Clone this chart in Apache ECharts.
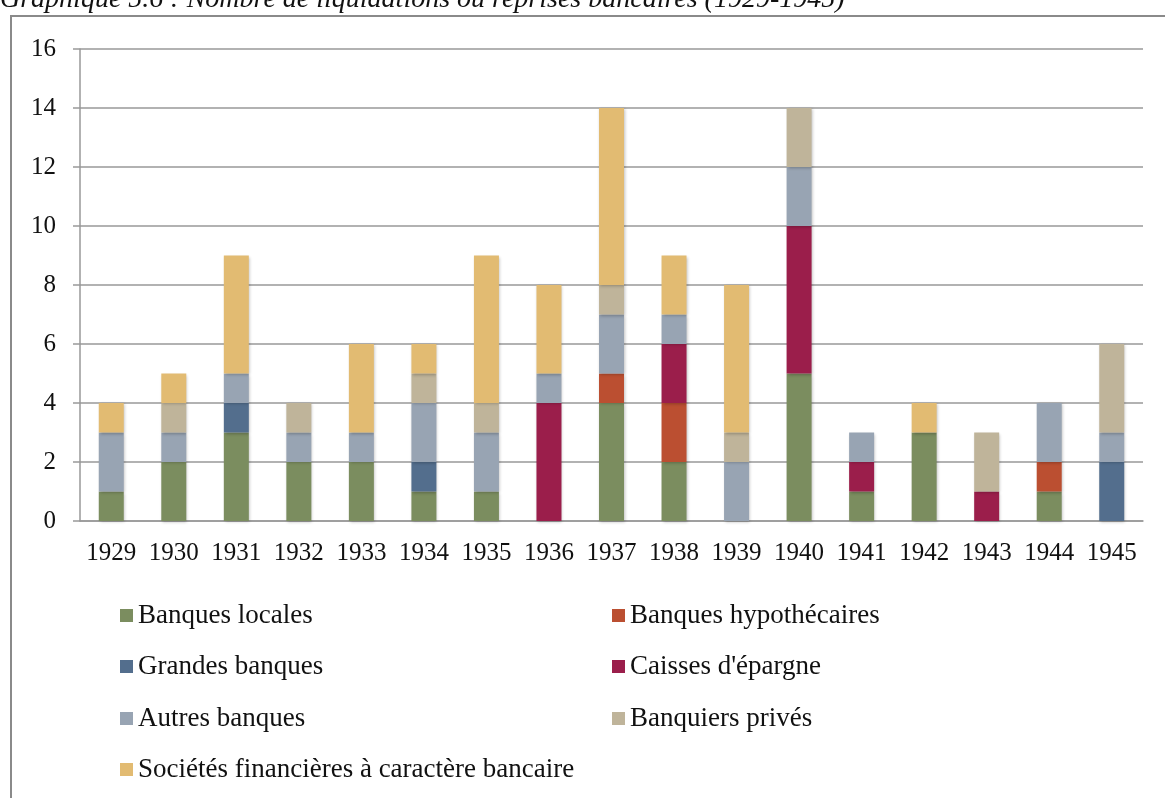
<!DOCTYPE html>
<html>
<head>
<meta charset="utf-8">
<script src="https://cdn.jsdelivr.net/npm/echarts@6/dist/echarts.min.js"></script>
<style>
html, body { margin: 0; padding: 0; background: #fff; }
#chart { width: 1165px; height: 798px; }
</style>
</head>
<body>
<div id="chart"></div>
<script>
// annees et valeurs
var annees = ['1929', '1930', '1931', '1932', '1933', '1934', '1935', '1936', '1937',
	'1938', '1939', '1940', '1941', '1942', '1943', '1944', '1945'];

var banquesLocales      = [1, 2, 3, 2, 2, 1, 1, 0, 4, 2, 0, 5, 1, 3, 0, 1, 0];
var banquesHypothecaires = [0, 0, 0, 0, 0, 0, 0, 0, 1, 2, 0, 0, 0, 0, 0, 1, 0];
var grandesBanques      = [0, 0, 1, 0, 0, 1, 0, 0, 0, 0, 0, 0, 0, 0, 0, 0, 2];
var caissesEpargne      = [0, 0, 0, 0, 0, 0, 0, 4, 0, 2, 0, 5, 1, 0, 1, 0, 0];
var autresBanques       = [2, 1, 1, 1, 1, 2, 2, 1, 2, 1, 2, 2, 1, 0, 0, 2, 1];
var banquiersPrives     = [0, 1, 0, 1, 0, 1, 1, 0, 1, 0, 1, 2, 0, 0, 2, 0, 3];
var societesFinancieres = [1, 1, 4, 0, 3, 1, 5, 3, 6, 2, 5, 0, 0, 1, 0, 0, 0];

var yTicks = [0, 2, 4, 6, 8, 10, 12, 14, 16];

var seriesNames = ['Banques locales', 'Banques hypothécaires', 'Grandes banques',
	"Caisses d'épargne", 'Autres banques', 'Banquiers privés',
	'Sociétés financières à caractère bancaire'];
var seriesData = [banquesLocales, banquesHypothecaires, grandesBanques, caissesEpargne,
	autresBanques, banquiersPrives, societesFinancieres];
var colors = ['#7b8d5f', '#bb4f31', '#536e8d', '#9b1e4b', '#98a4b3', '#bfb49a', '#e2bb72'];

var police = '"Liberation Serif", "DejaVu Serif", serif';

var series = [];
for (var i = 0; i < seriesNames.length; i++) {
	series.push({
		name: seriesNames[i],
		type: 'bar',
		stack: 'total',
		barWidth: 25,
		itemStyle: {
			color: colors[i],
			shadowColor: 'rgba(0,0,0,0.25)',
			shadowBlur: 3,
			shadowOffsetX: 1,
			shadowOffsetY: 1
		},
		data: seriesData[i]
	});
}

// legende sur deux colonnes
var legendPos = [
	[115, 597], [607, 597],
	[115, 648], [607, 648],
	[115, 700], [607, 700],
	[115, 751]
];
var legends = [];
for (var i = 0; i < seriesNames.length; i++) {
	legends.push({
		data: [{ name: seriesNames[i], itemStyle: { shadowBlur: 0, shadowOffsetX: 0, shadowOffsetY: 0 } }],
		left: legendPos[i][0],
		top: legendPos[i][1],
		itemWidth: 13,
		itemHeight: 13,
		icon: 'rect',
		selectedMode: false,
		textStyle: { fontFamily: police, fontSize: 27, color: '#111' }
	});
}

var chart = echarts.init(document.getElementById('chart'));
var option = {
	animation: false,
	title: {
		text: 'Graphique 5.6 : Nombre de liquidations ou reprises bancaires (1929-1945)',
		left: -5,
		top: -19,
		textStyle: { fontFamily: police, fontStyle: 'italic', fontWeight: 'normal', fontSize: 28, color: '#111' }
	},
	graphic: [{
		type: 'rect',
		shape: { x: 11, y: 16, width: 1200, height: 820 },
		style: { fill: 'none', stroke: '#8a8a8a', lineWidth: 2 },
		silent: true
	}],
	legend: legends,
	grid: { left: 80, top: 49, width: 1063, height: 472 },
	xAxis: {
		type: 'category',
		data: annees,
		axisLine: { lineStyle: { color: '#999', width: 1.5 } },
		axisTick: { length: 8, lineStyle: { color: '#999', width: 1.5 } },
		axisLabel: { interval: 0, hideOverlap: false, fontFamily: police, fontSize: 25, color: '#111', margin: 20 }
	},
	yAxis: {
		type: 'value',
		min: yTicks[0],
		max: yTicks[yTicks.length - 1],
		interval: 2,
		axisLine: { show: true, lineStyle: { color: '#999', width: 1.5 } },
		axisTick: { show: true, length: 7, lineStyle: { color: '#999', width: 1.5 } },
		splitLine: { lineStyle: { color: '#999', width: 1.5 } },
		axisLabel: { fontFamily: police, fontSize: 25, color: '#111', margin: 24 }
	},
	series: series
};
chart.setOption(option);
</script>
</body>
</html>
